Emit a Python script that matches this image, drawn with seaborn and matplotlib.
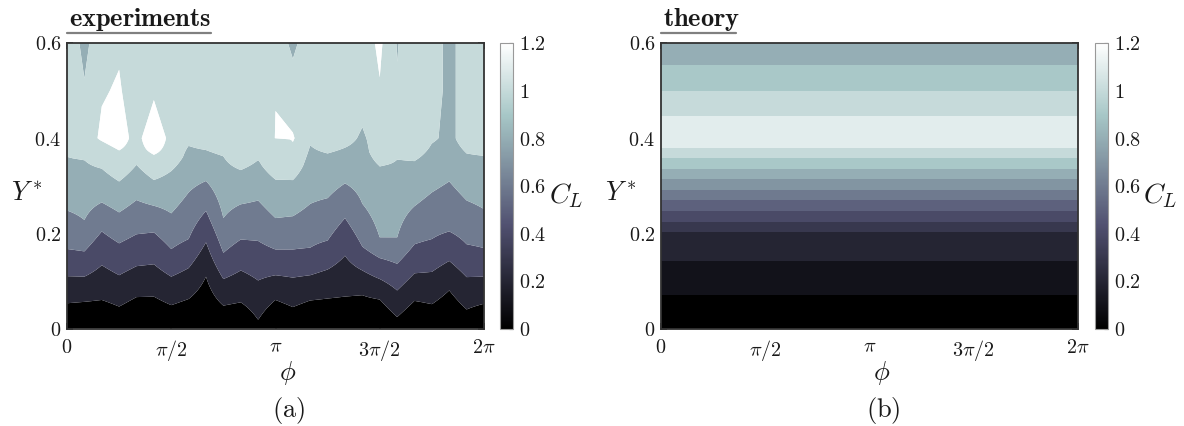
import numpy as np
import matplotlib
matplotlib.use("Agg")
import matplotlib.pyplot as plt
from matplotlib.colors import Normalize
from matplotlib.lines import Line2D
import matplotlib.cm as mcm
import seaborn as sns

# ---------------- data ----------------
phi_ticks = [0, np.pi / 2, np.pi, 3 * np.pi / 2, 2 * np.pi]
phi_ticklabels = [r'$0$', r'$\pi/2$', r'$\pi$', r'$3\pi/2$', r'$2\pi$']
y_ticks = [0, 0.2, 0.4, 0.6]
y_ticklabels = [r'$0$', r'$0.2$', r'$0.4$', r'$0.6$']
cbar_ticks = [0, 0.2, 0.4, 0.6, 0.8, 1.0, 1.2]
cbar_ticklabels = [r'$0$', r'$0.2$', r'$0.4$', r'$0.6$', r'$0.8$', r'$1$', r'$1.2$']

# experiments: measurement columns (degrees)
exp_phi_deg = [0, 15, 30, 45, 60, 75, 90, 105, 120, 135, 150, 165, 180,
               195, 210, 225, 240, 255, 270, 285, 300, 315, 330, 345, 360]
# heights Y* at which C_L reaches 0.2, 0.4, 0.6, 0.8, 1.0 in each column
exp_Y_02 = [0.053, 0.056, 0.060, 0.046, 0.066, 0.067, 0.049, 0.062, 0.109, 0.048, 0.055, 0.018, 0.060,
            0.045, 0.059, 0.063, 0.067, 0.070, 0.061, 0.024, 0.058, 0.051, 0.080, 0.040, 0.052]
exp_Y_04 = [0.110, 0.109, 0.133, 0.112, 0.131, 0.135, 0.109, 0.127, 0.181, 0.104, 0.122, 0.101, 0.112,
            0.107, 0.112, 0.124, 0.153, 0.122, 0.104, 0.080, 0.116, 0.119, 0.142, 0.108, 0.109]
exp_Y_06 = [0.167, 0.162, 0.204, 0.179, 0.198, 0.202, 0.167, 0.188, 0.247, 0.159, 0.187, 0.184, 0.166,
            0.166, 0.170, 0.185, 0.232, 0.172, 0.148, 0.136, 0.177, 0.188, 0.204, 0.177, 0.169]
exp_Y_08 = [0.248, 0.228, 0.265, 0.244, 0.270, 0.258, 0.242, 0.286, 0.310, 0.232, 0.261, 0.269, 0.232,
            0.236, 0.262, 0.274, 0.305, 0.262, 0.191, 0.191, 0.257, 0.286, 0.309, 0.269, 0.251]
exp_Y_10 = [0.361, 0.354, 0.336, 0.309, 0.344, 0.312, 0.331, 0.384, 0.375, 0.362, 0.333, 0.354, 0.313,
            0.312, 0.385, 0.368, 0.380, 0.424, 0.341, 0.355, 0.352, 0.389, 0.406, 0.368, 0.363]
exp_CL_plateau = 1.1
# extra profile points just below Y*=0.4 (bottoms of the C_L > 1.2 patches)
exp_extra = {2: [(0.375, 1.1)], 3: [(0.355, 1.1)], 5: [(0.35, 1.1)], 12: [(0.395, 1.1)]}
# C_L on the upper measurement rows Y* = 0.4, 0.5, 0.6
exp_CL_040 = [1.100, 1.100, 1.232, 1.333, 1.100, 1.433, 1.100, 1.053, 1.083, 1.100, 1.100, 1.100, 1.204,
              1.216, 1.050, 1.100, 1.067, 0.970, 1.100, 1.100, 1.100, 1.037, 0.940, 1.100, 1.100]
exp_CL_050 = [1.100, 1.014, 1.184, 1.218, 1.100, 1.142, 1.100, 1.100, 1.100, 1.100, 1.100, 1.100, 1.197,
              1.080, 1.100, 1.100, 1.100, 1.100, 1.185, 1.015, 1.100, 1.100, 0.940, 1.100, 1.100]
exp_CL_060 = [1.100, 0.959, 1.100, 1.177, 1.100, 1.100, 1.100, 1.100, 1.100, 1.100, 1.100, 1.100, 1.100,
              0.960, 1.100, 1.100, 1.100, 1.100, 1.239, 0.990, 1.100, 1.100, 0.940, 1.100, 1.100]

# theory: C_L profile vs Y*
theory_Y = [0, 0.071, 0.142, 0.203, 0.224, 0.246, 0.270, 0.292, 0.314, 0.336, 0.358,
            0.380, 0.413, 0.446, 0.499, 0.553, 0.60]
theory_CL = [0, 0.1, 0.2, 0.3, 0.4, 0.5, 0.6, 0.7, 0.8, 0.9, 1.0,
             1.1, 1.15, 1.1, 1.0, 0.9, 0.82]

# ---------------- style ----------------
sns.set_theme(style='white')
plt.rcParams.update({
    'mathtext.fontset': 'cm',
    'font.family': ['serif'],
    'font.serif': ['DejaVu Serif'],
    'axes.unicode_minus': False,
})
cmap = sns.color_palette("bone", as_cmap=True)
txt = '0.1'

W, H = 1184, 426
fig = plt.figure(figsize=(W / 100, H / 100), dpi=100)


def fx(px):
    return px / W


def fy(py):
    return 1 - py / H


ax_top, ax_bot = 43, 328.5
axL = fig.add_axes([fx(67), fy(ax_bot), fx(417), (ax_bot - ax_top) / H])
axR = fig.add_axes([fx(661), fy(ax_bot), fx(417), (ax_bot - ax_top) / H])
caxL = fig.add_axes([fx(500), fy(ax_bot), fx(13), (ax_bot - ax_top) / H])
caxR = fig.add_axes([fx(1095), fy(ax_bot), fx(13), (ax_bot - ax_top) / H])

# ---------------- experiments field ----------------
Ye = np.concatenate([np.linspace(0, 0.4, 161), [0.5, 0.6]])
phi_e = np.deg2rad(exp_phi_deg)
Z_e = np.zeros((len(Ye), len(phi_e)))
for k in range(len(phi_e)):
    pts = [(0.0, 0.0), (exp_Y_02[k], 0.2), (exp_Y_04[k], 0.4), (exp_Y_06[k], 0.6),
           (exp_Y_08[k], 0.8), (exp_Y_10[k], 1.0), (exp_Y_10[k] + 0.03, exp_CL_plateau)]
    pts += exp_extra.get(k, [])
    pts = sorted([p for p in pts if p[0] < 0.4])
    pts += [(0.4, exp_CL_040[k]), (0.5, exp_CL_050[k]), (0.6, exp_CL_060[k])]
    Z_e[:, k] = np.interp(Ye, [p[0] for p in pts], [p[1] for p in pts])

lev_e = np.linspace(0, 1.4, 8)
axL.contourf(phi_e, Ye, Z_e, levels=lev_e, cmap=cmap,
             norm=Normalize(vmin=0.1, vmax=1.3), antialiased=True)

# ---------------- theory field ----------------
Yt = np.linspace(0, 0.6, 601)
phi_t = np.linspace(0, 2 * np.pi, 25)
Z_t = np.tile(np.interp(Yt, theory_Y, theory_CL)[:, None], (1, len(phi_t)))
lev_t = np.linspace(0, 1.2, 13)
axR.contourf(phi_t, Yt, Z_t, levels=lev_t, cmap=cmap,
             norm=Normalize(vmin=0.05, vmax=1.25), antialiased=True)

# ---------------- axes styling ----------------
for ax in (axL, axR):
    ax.set_xlim(0, 2 * np.pi)
    ax.set_ylim(0, 0.6)
    ax.set_xticks(phi_ticks)
    ax.set_xticklabels(phi_ticklabels, fontsize=14.5, color=txt)
    ax.set_yticks(y_ticks)
    ax.set_yticklabels(y_ticklabels, fontsize=14.5, color=txt)
    ax.tick_params(direction='in', length=4, width=1.2, color='0.15',
                   top=True, right=True, bottom=True, left=True)
    ax.tick_params(axis='x', pad=6.5)
    ax.tick_params(axis='y', pad=4)
    for s in ax.spines.values():
        s.set_color('0.2')
        s.set_linewidth(1.3)
    ax.grid(False)

sm = mcm.ScalarMappable(norm=Normalize(0, 1.2), cmap=cmap)
for cax in (caxL, caxR):
    cb = fig.colorbar(sm, cax=cax, ticks=cbar_ticks)
    cax.set_yticklabels(cbar_ticklabels, fontsize=14.5, color=txt)
    cax.tick_params(direction='in', length=3, width=0.8, color='0.35', pad=4)
    cb.outline.set_edgecolor('0.6')
    cb.outline.set_linewidth(0.8)

# ---------------- labels ----------------
for dx, panel, title, ul_end in ((0, 'a', 'experiments', 211), (594, 'b', 'theory', 736)):
    fig.text(fx(27 + dx), fy(193), r'$Y^*$', fontsize=19, ha='center', va='center', color=txt)
    fig.text(fx(288 + dx), fy(373), r'$\phi$', fontsize=19, ha='center', va='center', color=txt)
    fig.text(fx(289 + dx), fy(411), r'$(\mathrm{' + panel + r'})$', fontsize=19,
             ha='center', va='center', color=txt)
    fig.text(fx(566 + dx), fy(196), r'$C_L$', fontsize=20, ha='center', va='center', color=txt)
    fig.text(fx(69 + dx), fy(26), r'$\mathbf{' + title + r'}$', fontsize=19,
             ha='left', va='baseline', color=txt)
    fig.add_artist(Line2D([fx(67 + dx), fx(ul_end)], [fy(33), fy(33)],
                          color='0.5', lw=1.6, transform=fig.transFigure))

fig.savefig('out.png', dpi=100)
